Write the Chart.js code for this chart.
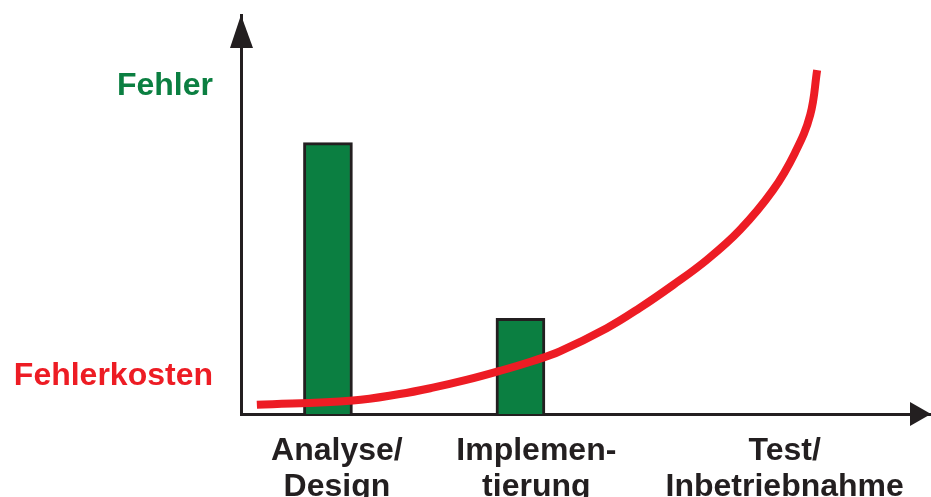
<!DOCTYPE html>
<html>
<head>
<meta charset="utf-8">
<script src="https://cdn.jsdelivr.net/npm/chart.js@4"></script>
<style>
  html, body { margin: 0; padding: 0; background: #ffffff; }
  #wrap { width: 931px; height: 497px; }
</style>
</head>
<body>
<div id="wrap"><canvas id="c" width="931" height="497"></canvas></div>
<script>
// Project phases along the horizontal axis (position, two-line label)
const phasePositions = [13.9, 42.8, 78.8];
const phaseLabels = [["Analyse/", "Design"], ["Implemen-", "tierung"], ["Test/", "Inbetriebnahme"]];

// Number of errors introduced per phase (bars)
const errorPositions = [12.6, 40.5];
const errorValues = [68, 24];

// Cost of fixing an error, depending on when it is found (curve)
const costX = [2.3, 16.2, 23.0, 27.8, 32.8, 37.5, 42.3, 46.2, 53.0, 57.8, 62.6, 67.5, 72.3, 77.1, 80.3, 82.5, 83.5];
const costY = [2.3, 3.4, 5.0, 6.6, 8.6, 10.8, 13.3, 15.7, 21.5, 26.6, 32.3, 38.6, 46.1, 56.1, 65.5, 75.0, 86.2];

// Y-axis captions and the height where each one sits
const axisCaptions = ["Fehler", "Fehlerkosten"];
const captionLevels = [82.1, 9.6];

const GREEN = '#0b7f41';
const RED = '#ed1c24';
const INK = '#231f20';
const FONT = { family: "'Liberation Sans', Arial, Helvetica, sans-serif", weight: 'bold', size: 32, lineHeight: 1.13 };

const arrowHeads = {
  id: 'arrowHeads',
  afterDraw(chart) {
    const { ctx, chartArea: a } = chart;
    ctx.save();
    ctx.fillStyle = INK;
    // vertical axis arrow
    ctx.beginPath();
    ctx.moveTo(a.left, a.top);
    ctx.lineTo(a.left - 11, a.top + 33);
    ctx.lineTo(a.left + 12, a.top + 33);
    ctx.closePath();
    ctx.fill();
    // horizontal axis arrow
    ctx.beginPath();
    ctx.moveTo(a.right, a.bottom);
    ctx.lineTo(a.right - 21, a.bottom - 12);
    ctx.lineTo(a.right - 21, a.bottom + 12);
    ctx.closePath();
    ctx.fill();
    ctx.restore();
  }
};

new Chart(document.getElementById('c'), {
  data: {
    datasets: [
      {
        type: 'line',
        data: costX.map((x, i) => ({ x, y: costY[i] })),
        borderColor: RED,
        borderWidth: 8,
        borderCapStyle: 'butt',
        pointRadius: 0,
        tension: 0.4,
        fill: false,
        order: 0
      },
      {
        type: 'bar',
        data: errorPositions.map((x, i) => ({ x, y: errorValues[i] })),
        backgroundColor: GREEN,
        borderColor: INK,
        borderWidth: 3,
        barThickness: 49,
        order: 1
      }
    ]
  },
  options: {
    responsive: false,
    animation: false,
    layout: { padding: { top: 15, left: 0, right: 0, bottom: 0 } },
    plugins: { legend: { display: false }, tooltip: { enabled: false } },
    scales: {
      x: {
        type: 'linear',
        min: 0,
        max: 100,
        offset: false,
        z: 1,
        grid: { display: false, drawTicks: false, offset: false },
        border: { display: true, color: INK, width: 3 },
        afterBuildTicks(scale) { scale.ticks = phasePositions.map(v => ({ value: v })); },
        afterFit(scale) {
          scale.height = 83;
          scale.paddingLeft = 0;
          scale.paddingRight = 0;
        },
        ticks: {
          autoSkip: false,
          maxRotation: 0,
          padding: 19,
          color: INK,
          font: FONT,
          callback(value) {
            const i = phasePositions.indexOf(value);
            return i >= 0 ? phaseLabels[i] : '';
          }
        }
      },
      y: {
        type: 'linear',
        min: 0,
        max: 100,
        grid: { display: false, drawTicks: false },
        border: { display: true, color: INK, width: 3 },
        afterBuildTicks(scale) { scale.ticks = captionLevels.map(v => ({ value: v })); },
        afterFit(scale) {
          scale.width = 241;
          scale.paddingTop = 0;
          scale.paddingBottom = 0;
        },
        ticks: {
          padding: 28,
          font: FONT,
          color: ctx => (ctx.index === 0 ? GREEN : RED),
          callback(value) {
            const i = captionLevels.indexOf(value);
            return i >= 0 ? axisCaptions[i] : '';
          }
        }
      }
    }
  },
  plugins: [arrowHeads]
});
</script>
</body>
</html>
